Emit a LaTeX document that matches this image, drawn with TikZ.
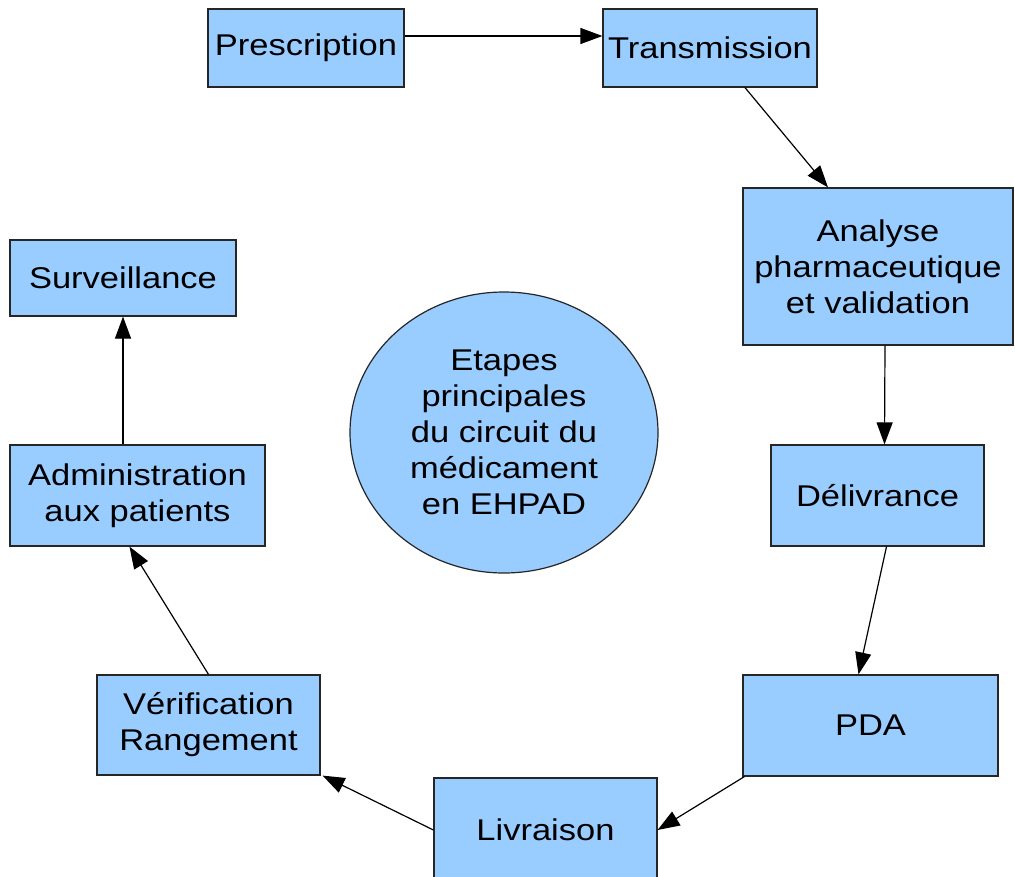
\documentclass[tikz,border=0pt]{standalone}
\usepackage{fontspec}
\setmainfont{Liberation Sans}[FakeStretch=1.15]
\usetikzlibrary{arrows.meta,shapes.geometric}
\definecolor{boxblue}{RGB}{153,204,255}
\newcommand{\arw}{-{Triangle[length=22pt,width=16pt]}}

\begin{document}
\begin{tikzpicture}[x=1pt,y=-1pt,
  stepbox/.style={draw=black!85,fill=boxblue,line width=1.2pt,align=center,inner sep=0pt,
    font=\fontsize{30}{36}\selectfont},
  flow/.style={line width=1.2pt,\arw}]
\clip (0,0) rectangle (1015,876);
\fill[white] (0,0) rectangle (1015,876);
%steps of the circuit
\node[stepbox,minimum width=196,minimum height=78]  (presc) at (306,48)    {Prescription};
\node[stepbox,minimum width=214,minimum height=78]  (trans) at (710,48)    {Transmission};
\node[stepbox,minimum width=270,minimum height=157] (anal)  at (878,266.5) {Analyse\\pharmaceutique\\et validation};
\node[stepbox,minimum width=213,minimum height=101] (deliv) at (877.5,495.5) {Délivrance};
\node[stepbox,minimum width=255,minimum height=101] (pda)   at (870.5,725.5) {PDA};
\node[stepbox,minimum width=223,minimum height=104] (livr)  at (545.5,830)  {Livraison};
\node[stepbox,minimum width=223,minimum height=100] (verif) at (208.5,725)  {Vérification\\Rangement};
\node[stepbox,minimum width=255,minimum height=101] (admin) at (137.5,495.5) {Administration\\aux patients};
\node[stepbox,minimum width=226,minimum height=76]  (surv)  at (123,278)    {Surveillance};
%centre
\node[stepbox,ellipse,minimum width=308,minimum height=281] (centre) at (504,432.5)
  {Etapes\\principales\\du circuit du\\médicament\\en EHPAD};
%arrows
\draw[flow] ([yshift=12]presc.east) -- ([yshift=12]trans.west);
\draw[flow] ([xshift=35]trans.south) -- ([xshift=-50]anal.north);
\draw[flow] ([xshift=7]anal.south) -- ([xshift=7]deliv.north);
\draw[flow] ([xshift=9]deliv.south) -- ([xshift=-12]pda.north);
\draw[flow] ([xshift=2]pda.south west) -- (livr.east);
\draw[flow] (livr.west) -- ([xshift=2]verif.south east);
\draw[flow] (verif.north) -- ([xshift=-8]admin.south);
\draw[flow] (admin.north -| surv.south) -- (surv.south);
\end{tikzpicture}
\end{document}
